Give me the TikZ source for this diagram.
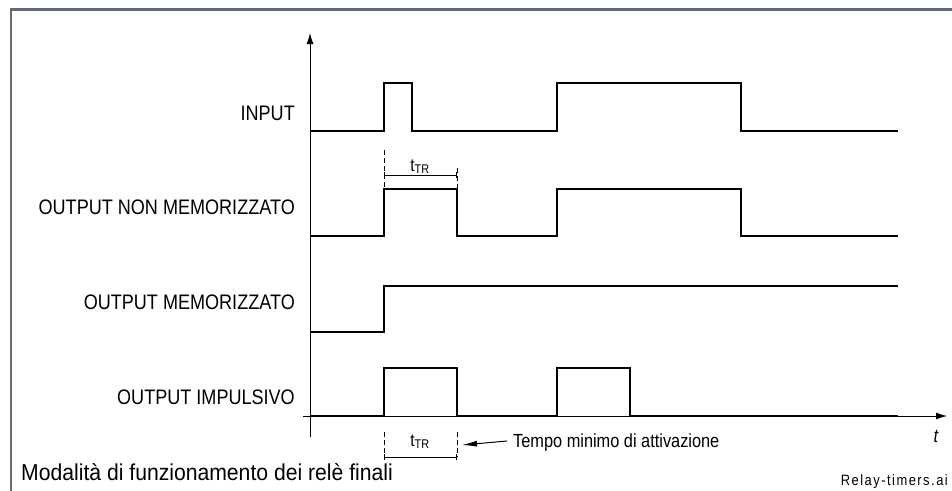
\documentclass[tikz,border=0pt]{standalone}
\usepackage{fontspec}
\setmainfont{Liberation Sans}[FakeStretch=0.86]
\newfontfamily\filefont{Liberation Sans}[FakeStretch=0.86, LetterSpace=10]
\newfontfamily\capfont{Liberation Sans}[FakeStretch=0.92]
\usetikzlibrary{arrows.meta}
\definecolor{framegray}{RGB}{95,107,118}
\begin{document}
\begin{tikzpicture}[x=1pt,y=-1pt,
  frameline/.style={draw=framegray, line width=2.6pt},
  axis/.style={line width=0.8pt,-{Latex[length=11pt,width=7pt]}},
  signal/.style={line width=2.3pt, line join=miter},
  guide/.style={line width=0.8pt, dash pattern=on 5pt off 3pt},
  dim/.style={line width=0.8pt},
  lbl/.style={anchor=base east, inner sep=0pt, font=\fontsize{21}{22}\selectfont},
  ttr/.style={anchor=base, inner sep=0pt, font=\fontsize{18}{18}\selectfont},
]
\useasboundingbox (0,0) rectangle (952,490);
% outer frame
\draw[frameline] (11,491) -- (11,9.5) -- (953,9.5);

% axes
\coordinate (yb) at (310,437);
\coordinate (yt) at (310,33);
\coordinate (xl) at (303,416);
\coordinate (xr) at (947,416);
\draw[axis] (yb) -- (yt);
\draw[axis] (xl) -- (xr);
\node[inner sep=0pt, anchor=base, font=\itshape\fontsize{19}{19}\selectfont] (tlab) at (936,442) {t};

% signal labels
\node[lbl] (lin)  at (295,120) {INPUT};
\node[lbl] (lnm)  at (295,214) {OUTPUT NON MEMORIZZATO};
\node[lbl] (lm)   at (295,309) {OUTPUT MEMORIZZATO};
\node[lbl] (limp) at (295,404) {OUTPUT IMPULSIVO};

% waveforms
\draw[signal] (310,131) -- (384,131) -- (384,83) -- (412,83) -- (412,131)
  -- (557,131) -- (557,83) -- (741,83) -- (741,131) -- (898,131);
\draw[signal] (310,236) -- (384,236) -- (384,189) -- (457,189) -- (457,236)
  -- (557,236) -- (557,189) -- (741,189) -- (741,236) -- (898,236);
\draw[signal] (310,332) -- (384,332) -- (384,286) -- (898,286);
\draw[signal] (310,416) -- (384,416) -- (384,368) -- (457,368) -- (457,416)
  -- (557,416) -- (557,368) -- (630,368) -- (630,416) -- (898,416);

% switching time between the first two traces
\draw[guide] (384,150) -- (384,189);
\draw[guide] (457,168) -- (457,189);
\coordinate (d1a) at (384,175);
\coordinate (d1b) at (457,175);
\draw[dim, {Bar[width=6pt]}-{Bar[width=6pt]}] (d1a) -- (d1b);
\node[ttr] (ttr1) at (420,171) {t\textsubscript{TR}};

% minimum activation time under the impulse trace
\draw[guide] (384,432) -- (384,457);
\draw[guide] (457,432) -- (457,457);
\coordinate (d2a) at (384,457);
\coordinate (d2b) at (457,457);
\draw[dim, {Bar[width=6pt]}-{Bar[width=6pt]}] (d2a) -- (d2b);
\node[ttr] (ttr2) at (420,446) {t\textsubscript{TR}};
\node[anchor=base west, inner sep=0pt, font=\fontsize{19}{20}\selectfont] (tmin) at (513,447) {Tempo minimo di attivazione};
\coordinate (arrtail) at (507,441);
\coordinate (arrtip) at (462,445);
\draw[line width=1pt, -{Latex[length=15pt,width=6pt]}] (arrtail) -- (arrtip);

% captions
\node[anchor=base west, inner sep=0pt, font=\capfont\fontsize{23}{24}\selectfont] (cap) at (21,480) {Modalità di funzionamento dei relè finali};
\node[anchor=base east, inner sep=0pt, font=\filefont\fontsize{15}{15}\selectfont] (file) at (948,485) {Relay-timers.ai};
\end{tikzpicture}
\end{document}
